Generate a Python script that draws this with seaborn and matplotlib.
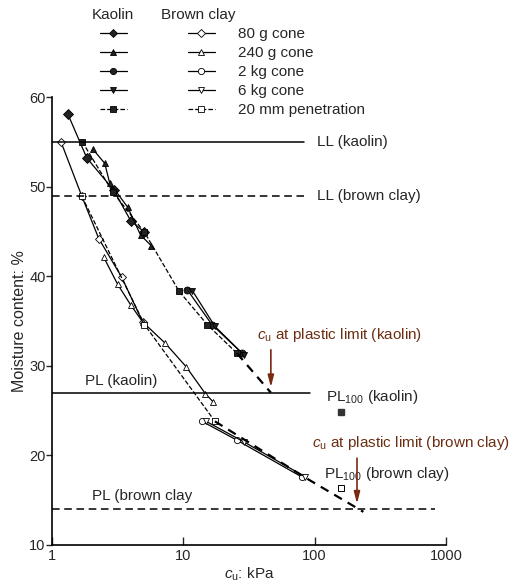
import numpy as np
import pandas as pd
import seaborn as sns
import matplotlib.pyplot as plt
from matplotlib.lines import Line2D
from matplotlib.legend_handler import HandlerTuple

# kaolin (filled markers)
k80_cu = [1.32, 1.84, 2.95, 3.97, 5.06]
k80_w = [58.1, 53.2, 49.6, 46.2, 44.9]
k240_cu = [2.04, 2.52, 2.75, 3.77, 4.72, 5.7]
k240_w = [54.2, 52.6, 50.4, 47.7, 44.6, 43.4]
k2kg_cu = [10.7, 16.5, 28.0]
k2kg_w = [38.5, 34.6, 31.4]
k6kg_cu = [11.7, 17.4, 29.0]
k6kg_w = [38.4, 34.4, 31.2]
k20_cu = [1.70, 2.9, 5.06, 9.3, 15.2, 25.6]
k20_w = [55.0, 49.4, 44.9, 38.3, 34.6, 31.4]

# brown clay (open markers)
b80_cu = [1.17, 1.69, 2.27, 3.39, 4.9]
b80_w = [55.0, 48.9, 44.2, 39.9, 34.9]
b240_cu = [2.48, 3.16, 3.97, 4.9, 7.3, 10.5, 14.7, 16.8]
b240_w = [42.1, 39.1, 36.8, 34.9, 32.5, 29.9, 26.9, 26.0]
b2kg_cu = [13.9, 25.6, 79.7]
b2kg_w = [23.8, 21.7, 17.6]
b6kg_cu = [14.9, 29.0, 85.0]
b6kg_w = [23.8, 21.5, 17.6]
b20_cu = [1.69, 5.06, 17.4]
b20_w = [48.9, 34.6, 23.8]

# limits
LL_kaolin = 55
LL_brown = 49
PL_kaolin = 27
PL_brown = 14
cu_pl_kaolin = 46.4
cu_pl_brown = 210
pl100_cu = [160, 160]
pl100_w = [24.8, 16.4]

series_labels = ["80 g cone", "240 g cone", "2 kg cone", "6 kg cone", "20 mm penetration"]
markers = ["D", "^", "o", "v", "s"]

sns.set_style("white")
plt.rcParams["font.family"] = ["Liberation Sans", "DejaVu Sans"]
plt.rcParams["mathtext.fontset"] = "custom"
plt.rcParams["mathtext.rm"] = "Liberation Sans"
plt.rcParams["mathtext.it"] = "Liberation Sans:italic"

fig = plt.figure(figsize=(5.13, 5.84), dpi=100)
ax = fig.add_axes([52/513, 1-545/584, 394/513, 448/584])

kaolin = [(k80_cu, k80_w), (k240_cu, k240_w), (k2kg_cu, k2kg_w), (k6kg_cu, k6kg_w), (k20_cu, k20_w)]
brown = [(b80_cu, b80_w), (b240_cu, b240_w), (b2kg_cu, b2kg_w), (b6kg_cu, b6kg_w), (b20_cu, b20_w)]

for i, (cu, w) in enumerate(kaolin):
    ls = "--" if i == 4 else "-"
    sns.lineplot(x=cu, y=w, ax=ax, sort=False, color="black", lw=0.9, linestyle=ls,
                 marker=markers[i], markersize=5, markerfacecolor="#222222",
                 markeredgecolor="black", markeredgewidth=0.6)
for i, (cu, w) in enumerate(brown):
    ls = "--" if i == 4 else "-"
    sns.lineplot(x=cu, y=w, ax=ax, sort=False, color="black", lw=0.9, linestyle=ls,
                 marker=markers[i], markersize=4.5, markerfacecolor="white",
                 markeredgecolor="black", markeredgewidth=0.6)

# extrapolations to plastic limit
ax.plot([k20_cu[-1], cu_pl_kaolin], [k20_w[-1], PL_kaolin], color="black", lw=1.6, ls=(0, (4, 3)))
ax.plot([b20_cu[-1], 90, 235], [b20_w[-1], 17.3, 13.7], color="black", lw=1.6, ls=(0, (4, 3)))

# limit lines
ax.plot([1, 83], [LL_kaolin, LL_kaolin], color="black", lw=1.1)
ax.plot([1, 83], [LL_brown, LL_brown], color="black", lw=1.1, ls=(0, (5, 3)))
ax.plot([1, 92], [PL_kaolin, PL_kaolin], color="black", lw=1.1)
ax.plot([1, 827], [PL_brown, PL_brown], color="black", lw=1.1, ls=(0, (5, 3)))

# PL100 points
ax.plot(pl100_cu[0], pl100_w[0], marker="s", ms=4, color="#333333", ls="none")
ax.plot(pl100_cu[1], pl100_w[1], marker="s", ms=4.5, mfc="white", mec="black", mew=0.7, ls="none")

fs = 11
ax.text(104, LL_kaolin, "LL (kaolin)", va="center", fontsize=fs)
ax.text(104, LL_brown, "LL (brown clay)", va="center", fontsize=fs)
ax.text(1.78, 28.3, "PL (kaolin)", va="center", fontsize=fs)
ax.text(2.0, 15.5, "PL (brown clay", va="center", fontsize=fs)
ax.text(121, 26.5, r"PL$_{100}$ (kaolin)", va="center", fontsize=fs)
ax.text(118, 17.9, r"PL$_{100}$ (brown clay)", va="center", fontsize=fs)

brown_txt = "#6b2e12"
ax.text(36.3, 33.4, r"$c_\mathrm{u}$ at plastic limit (kaolin)", va="center", fontsize=fs, color=brown_txt)
ax.text(95, 21.4, r"$c_\mathrm{u}$ at plastic limit (brown clay)", va="center", fontsize=fs, color=brown_txt)
arrow_kw = dict(arrowstyle="-|>,head_length=0.7,head_width=0.18", color="#7a2a10", lw=1.2)
ax.annotate("", xy=(cu_pl_kaolin, PL_kaolin + 0.3), xytext=(cu_pl_kaolin, 32.1), arrowprops=arrow_kw)
ax.annotate("", xy=(cu_pl_brown, PL_brown + 0.3), xytext=(cu_pl_brown, 20.0), arrowprops=arrow_kw)

ax.set_xscale("log")
ax.set_xlim(1, 1000)
ax.set_ylim(10, 60)
ax.set_xticks([1, 10, 100, 1000])
ax.set_xticklabels(["1", "10", "100", "1000"])
ax.xaxis.set_minor_locator(plt.NullLocator())
ax.set_yticks([10, 20, 30, 40, 50, 60])
ax.tick_params(axis="y", direction="out", length=4, width=1, labelsize=10.5, left=True, pad=0.5)
ax.tick_params(axis="x", direction="in", length=6, width=1, labelsize=10.5, bottom=True, pad=3)
sns.despine(ax=ax)
for s in ["left", "bottom"]:
    ax.spines[s].set_color("black")
    ax.spines[s].set_linewidth(1.2)
ax.set_xlabel(r"$c_\mathrm{u}$: kPa", fontsize=fs, labelpad=2)
ax.set_ylabel("Moisture content: %", fontsize=11.5, labelpad=2)

# legend above the axes
handles = []
for i, m in enumerate(markers):
    ls = "--" if i == 4 else "-"
    hk = Line2D([], [], color="black", lw=0.9, ls=ls, marker=m, ms=4.5, mfc="#222222", mec="black", mew=0.6)
    hb = Line2D([], [], color="black", lw=0.9, ls=ls, marker=m, ms=4.5, mfc="white", mec="black", mew=0.6)
    handles.append((hk, hb))
fig.legend(handles, series_labels, loc="upper left", bbox_to_anchor=(100/513, 1-27/584),
           frameon=False, fontsize=fs, borderpad=0, borderaxespad=0, handlelength=7.5,
           handletextpad=1.5, labelspacing=0.33,
           handler_map={tuple: HandlerTuple(ndivide=None, pad=4.0)})
fig.text(113/513, 1-15/584, "Kaolin", ha="center", va="center", fontsize=fs)
fig.text(198/513, 1-15/584, "Brown clay", ha="center", va="center", fontsize=fs)

fig.savefig("out.png", dpi=100)
